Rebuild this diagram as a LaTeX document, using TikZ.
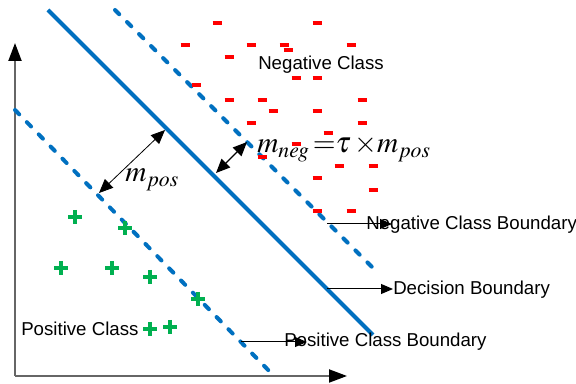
\documentclass[tikz,border=0pt]{standalone}
\usepackage{mathptmx}
\usepackage[no-math]{fontspec}
\setmainfont{Liberation Sans}
\usetikzlibrary{arrows.meta}
\definecolor{bndblue}{RGB}{0,112,192}
\definecolor{posgreen}{RGB}{0,176,80}
\definecolor{negred}{RGB}{255,0,0}
\begin{document}
\begin{tikzpicture}[x=0.75pt,y=-0.75pt,
    axis/.style={draw=black!60,line width=1.5pt,-{Triangle[length=13.5pt,width=9.75pt,fill=black,color=black]}},
    bnd/.style={draw=bndblue,line width=3pt},
    marginbnd/.style={bnd,line cap=round,dash pattern=on 4.5pt off 8.25pt},
    margin/.style={draw=black,line width=0.6pt,{Triangle[length=10.5pt,width=9pt]}-{Triangle[length=10.5pt,width=9pt]}},
    pointer/.style={draw=black,line width=0.75pt,-{Triangle[length=9pt,width=7.5pt]}},
    lbl/.style={inner sep=0pt,anchor=base west,font=\fontsize{14}{16}\selectfont},
    formula/.style={inner sep=0pt,anchor=base west,font=\fontsize{22}{26}\selectfont}]
    \useasboundingbox (0,0) rectangle (576,384);
    % axes
    \coordinate (o) at (15,376);
    \coordinate (ytop) at (15,43);
    \coordinate (xend) at (347,376);
    \draw[axis] (o) -- (ytop);
    \draw[axis] (o) -- (xend);
    % boundaries
    \coordinate (d1) at (48,10);\coordinate (d2) at (373,335);
    \coordinate (n1) at (115,10);\coordinate (n2) at (377,272);
    \coordinate (p1) at (15,110);\coordinate (p2) at (273,375);
    \draw[bnd] (d1) -- (d2);
    \draw[marginbnd] (n1) -- (n2);
    \draw[marginbnd] (p1) -- (p2);
    % negative samples
    \foreach \x/\y in {217/23,317/23,185/45,251/45,284/45,351/45,288/50,229/57,
        296/78,317/78,196/85,229/100,262/100,362/100,273/111,317/111,251/123,
        362/123,328/133,296/144,262/157,339/166,373/166,317/178,373/190,
        317/211,351/211}
        \draw[negred,line width=2.6pt] (\x-4.5,\y) -- (\x+4.5,\y);
    % positive samples
    \foreach \x/\y in {75/217,125/228,61/268,112/268,150/277,198/299,150/329,170/327}
        {\draw[posgreen,line width=2.6pt] (\x-7,\y) -- (\x+7,\y);
         \draw[posgreen,line width=2.6pt] (\x,\y-7) -- (\x,\y+7);}
    % margins
    \coordinate (mpa) at (99,193);\coordinate (mpb) at (165,130);
    \coordinate (mna) at (216,173);\coordinate (mnb) at (247,142);
    \draw[margin] (mpa) -- (mpb);
    \draw[margin,line width=1pt] (mna) -- (mnb);
    \node[formula] (mpos) at (125,182) {$m_{pos}$};
    \node[formula] (mneg) at (257,153) {$m_{neg}\,{=}\tau\,{\times}m_{pos}$};
    % labels
    \node[lbl] (negcls) at (258,70) {Negative Class};
    \node[lbl] (poscls) at (21,336) {Positive Class};
    \node[lbl] (negbd) at (366,230) {Negative Class Boundary};
    \node[lbl] (decbd) at (393,295) {Decision Boundary};
    \node[lbl] (posbd) at (284,347) {Positive Class Boundary};
    \coordinate (negpt) at (327,224);\coordinate (negtip) at (392,224);
    \coordinate (decpt) at (327,289);\coordinate (dectip) at (393,289);
    \coordinate (pospt) at (241,342);\coordinate (postip) at (307,342);
    \draw[pointer] (negpt) -- (negtip);
    \draw[pointer] (decpt) -- (dectip);
    \draw[pointer] (pospt) -- (postip);
\end{tikzpicture}
\end{document}
